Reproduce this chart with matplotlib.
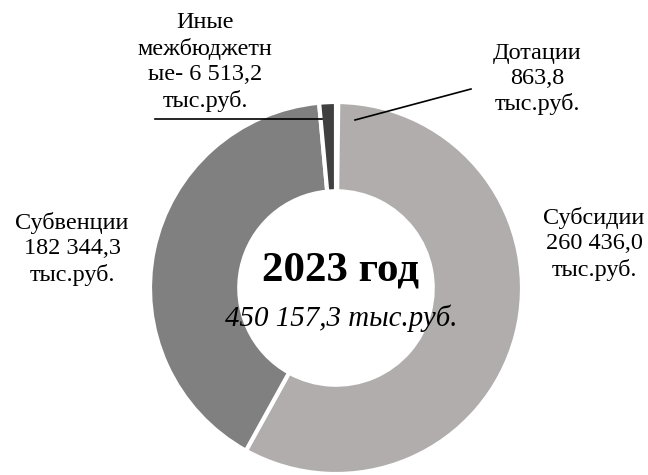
import matplotlib
matplotlib.use("Agg")
import matplotlib.pyplot as plt

plt.rcParams["font.family"] = ["Liberation Serif", "DejaVu Serif"]

categories = ["Дотации", "Субсидии", "Субвенции", "Иные межбюджетные"]
values = [863.8, 260436.0, 182344.3, 6513.2]
colors = ["#d9d9d9", "#b0adac", "#808080", "#404040"]
labels = ["Дотации\n863,8\nтыс.руб.",
          "Субсидии\n260 436,0\nтыс.руб.",
          "Субвенции\n182 344,3\nтыс.руб.",
          "Иные\nмежбюджетн\nые- 6 513,2\nтыс.руб."]
title_year = "2023 год"
total_label = "450 157,3 тыс.руб."

W, H = 648, 475
fig = plt.figure(figsize=(W / 100, H / 100), dpi=100)
ax = fig.add_axes([0, 0, 1, 1])

cx, cy = 336, H - 288
R = 186
ax.pie(values, colors=colors, startangle=90, counterclock=False,
       radius=R, center=(cx, cy), frame=True,
       wedgeprops=dict(width=R * 0.48, edgecolor="white", linewidth=3))
ax.set_xlim(0, W)
ax.set_ylim(0, H)
ax.set_aspect("equal")
ax.axis("off")

serif = ["Liberation Serif", "DejaVu Serif"]
fs = 17.5
ls = 1.27
ax.text(537, H - 79, labels[0], ha="center", va="center", fontsize=fs,
        family=serif, linespacing=ls)
ax.text(594, H - 244, labels[1], ha="center", va="center", fontsize=fs,
        family=serif, linespacing=ls)
ax.text(72, H - 249, labels[2], ha="center", va="center", fontsize=fs,
        family=serif, linespacing=ls)
ax.text(205, H - 62, labels[3], ha="center", va="center", fontsize=fs,
        family=serif, linespacing=ls)

ax.plot([155, 322], [H - 119, H - 119], color="black", lw=1.2)
ax.plot([355, 471], [H - 120, H - 89], color="black", lw=1.2)

ax.text(340, H - 270, title_year, ha="center", va="center", fontsize=31,
        fontweight="bold", family=serif)
ax.text(341, H - 318, total_label, ha="center", va="center", fontsize=20.8,
        fontstyle="italic", family=serif)

fig.savefig("out.png", dpi=100)
